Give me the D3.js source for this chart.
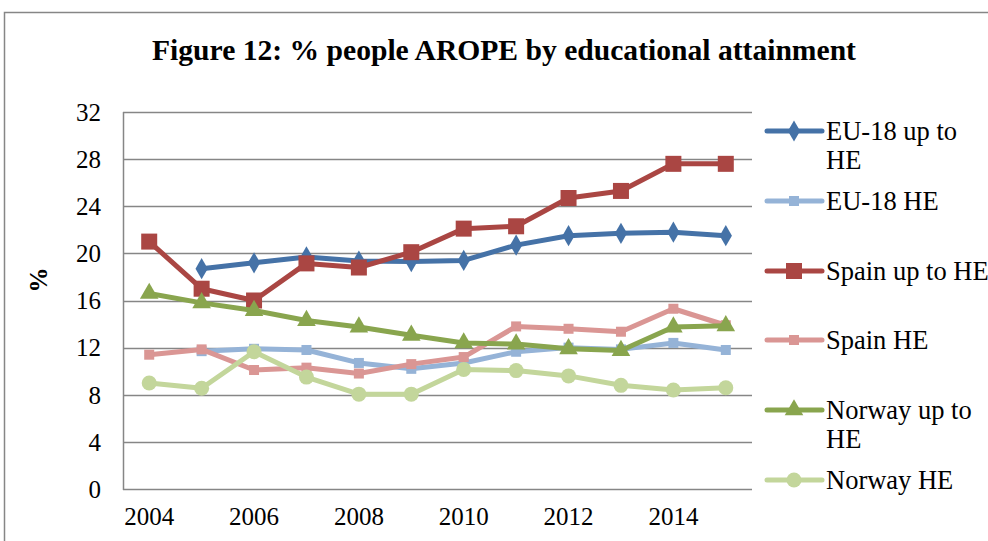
<!DOCTYPE html>
<html><head><meta charset="utf-8">
<script src="https://cdn.jsdelivr.net/npm/d3@7"></script>
<style>body{margin:0;background:#fff}svg{display:block}text{font-family:"Liberation Serif","Times New Roman",serif}</style>
</head><body>
<svg id="c" width="988" height="541"></svg>
<script>
const years = [2004,2005,2006,2007,2008,2009,2010,2011,2012,2013,2014,2015];
const yTicks = [0,4,8,12,16,20,24,28,32];
const xTickLabels = [2004,2006,2008,2010,2012,2014];
const seriesNames = ["EU-18 up to HE","EU-18 HE","Spain up to HE","Spain HE","Norway up to HE","Norway HE"];
const eu18UpToHE = [null,18.7,19.2,19.7,19.35,19.3,19.4,20.7,21.5,21.7,21.8,21.5];
const eu18HE     = [null,11.7,11.9,11.8,10.7,10.2,10.7,11.65,12.0,11.85,12.4,11.8];
const spainUpToHE= [21.0,17.0,16.0,19.15,18.8,20.1,22.1,22.3,24.7,25.3,27.6,27.6];
const spainHE    = [11.4,11.85,10.1,10.3,9.8,10.6,11.2,13.8,13.6,13.35,15.3,13.9];
const norwayUpToHE=[16.6,15.8,15.15,14.3,13.75,13.05,12.4,12.3,11.9,11.75,13.75,13.85];
const norwayHE   = [9.0,8.55,11.65,9.5,8.05,8.05,10.15,10.05,9.6,8.8,8.4,8.6];
const seriesValues = [eu18UpToHE,eu18HE,spainUpToHE,spainHE,norwayUpToHE,norwayHE];
const colors = ["#4572A7","#95B3D7","#AA4643","#DA9694","#89A54E","#C3D69B"];
const shapes = ["diamond","smallSquare","bigSquare","smallSquare","triangle","circle"];
const legendLines = [["EU-18 up to","HE"],["EU-18 HE"],["Spain up to HE"],["Spain HE"],["Norway up to","HE"],["Norway HE"]];

const svg = d3.select("#c");
const L=123,R=752,T=112,B=489;
const x = d3.scaleBand().domain(years).range([L,R]).padding(0);
const cx = d => x(d)+x.bandwidth()/2;
const y = d3.scaleLinear().domain([0,32]).range([B,T]);

// frame
svg.append("rect").attr("x",4.5).attr("y",12.5).attr("width",1100).attr("height",700)
  .attr("fill","none").attr("stroke","#868686").attr("stroke-width",1.5);

// title
svg.append("text").attr("x",504).attr("y",60).attr("text-anchor","middle")
  .attr("font-weight","bold").attr("font-size",29.6).text("Figure 12: % people AROPE by educational attainment");

// grid
svg.append("g").selectAll("line").data(yTicks).join("line")
  .attr("x1",L).attr("x2",R).attr("y1",d=>Math.round(y(d))+0.5).attr("y2",d=>Math.round(y(d))+0.5)
  .attr("stroke","#868686").attr("stroke-width",1.5);
svg.append("line").attr("x1",L+0.5).attr("x2",L+0.5).attr("y1",T).attr("y2",B+1)
  .attr("stroke","#868686").attr("stroke-width",1.5);

// y axis
const yAxis = d3.axisLeft(y).tickValues(yTicks).tickSize(0).tickPadding(0).tickFormat(d3.format("d"));
const ya = svg.append("g").attr("transform",`translate(${L-22},0)`).call(yAxis);
ya.select(".domain").remove();
ya.selectAll("text").attr("font-size",25).attr("fill","#000").attr("font-family","Liberation Serif").attr("dy","0.33em");

// x axis
const xAxis = d3.axisBottom(x).tickValues(xTickLabels).tickSize(0).tickPadding(0);
const xa = svg.append("g").attr("transform",`translate(0,${B+18})`).call(xAxis);
xa.select(".domain").remove();
xa.selectAll("text").attr("font-size",25).attr("fill","#000").attr("font-family","Liberation Serif").attr("dy","0.71em");

// y title
svg.append("text").attr("transform","translate(47,280) rotate(-90)").attr("text-anchor","middle")
  .attr("font-weight","bold").attr("font-size",25).text("%");

function marker(g, shape, color, px, py){
  if(shape==="diamond"){
    g.append("path").attr("d",d3.symbol(d3.symbolDiamond,130)()).attr("transform",`translate(${px},${py})`).attr("fill",color);
  } else if(shape==="smallSquare"){
    g.append("rect").attr("x",px-5).attr("y",py-5).attr("width",10).attr("height",10).attr("fill",color);
  } else if(shape==="bigSquare"){
    g.append("rect").attr("x",px-8).attr("y",py-8).attr("width",16).attr("height",16).attr("fill",color);
  } else if(shape==="triangle"){
    g.append("path").attr("d",d3.symbol(d3.symbolTriangle,150)()).attr("transform",`translate(${px},${py})`).attr("fill",color);
  } else {
    g.append("circle").attr("cx",px).attr("cy",py).attr("r",7.5).attr("fill",color);
  }
}

const line = d3.line().defined(d=>d.v!=null).x(d=>cx(d.year)).y(d=>y(d.v));
seriesValues.forEach((vals,i)=>{
  const data = years.map((yr,j)=>({year:yr,v:vals[j]}));
  const g = svg.append("g");
  g.append("path").datum(data).attr("d",line).attr("fill","none").attr("stroke",colors[i])
    .attr("stroke-width",5).attr("stroke-linejoin","round").attr("stroke-linecap","round");
  data.filter(d=>d.v!=null).forEach(d=>marker(g,shapes[i],colors[i],cx(d.year),y(d.v)));
});

// legend
const legY = [131,201,271,340,410,480];
legendLines.forEach((lines,i)=>{
  const g = svg.append("g");
  g.append("line").attr("x1",767).attr("x2",822).attr("y1",legY[i]).attr("y2",legY[i])
    .attr("stroke",colors[i]).attr("stroke-width",5).attr("stroke-linecap","round");
  marker(g,shapes[i],colors[i],794,legY[i]);
  lines.forEach((t,k)=>{
    g.append("text").attr("x",826).attr("y",legY[i]+9+k*29).attr("font-size",26.5).text(t);
  });
});
</script>
</body></html>
